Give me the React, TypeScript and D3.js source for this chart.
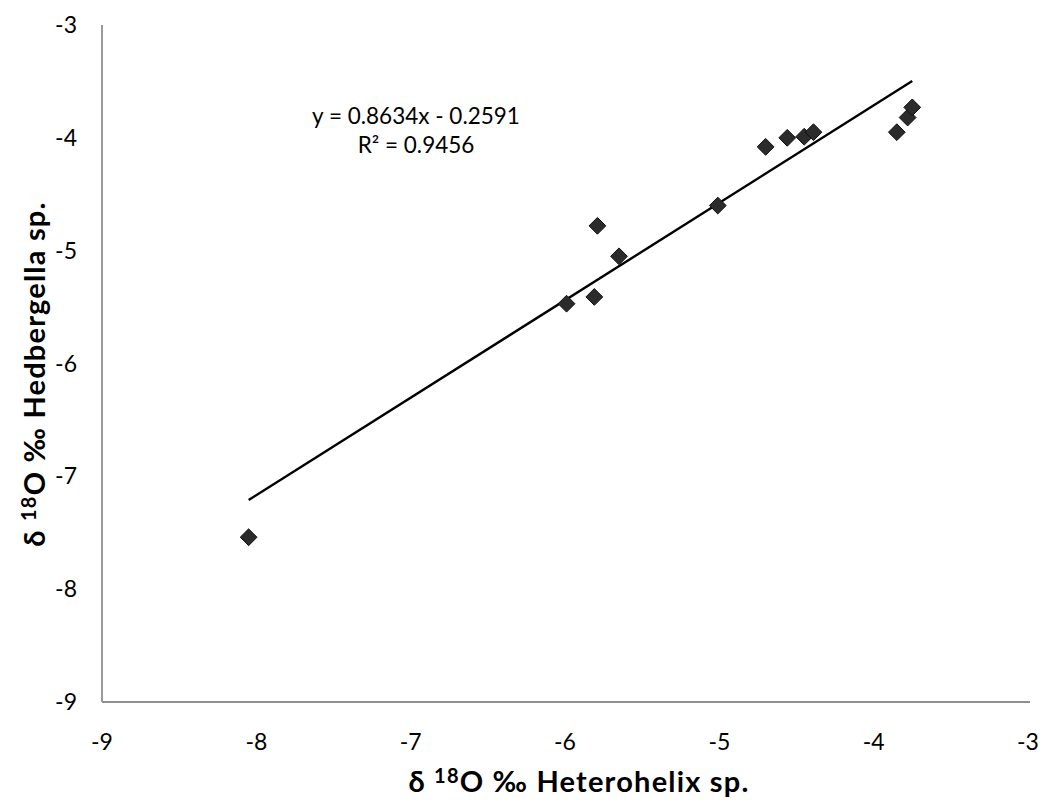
import { useEffect } from 'react';
import * as d3 from 'd3';

// Heterohelix vs Hedbergella d18O
const heterohelix = [-8.05, -5.99, -5.81, -5.79, -5.65, -5.01, -4.7, -4.56, -4.45, -4.39, -3.85, -3.78, -3.75];
const hedbergella = [-7.54, -5.47, -5.41, -4.78, -5.05, -4.6, -4.08, -4.0, -3.99, -3.95, -3.95, -3.82, -3.73];
const xTicks = [-9, -8, -7, -6, -5, -4, -3];
const yTicks = [-9, -8, -7, -6, -5, -4, -3];
const slope = 0.8634;
const intercept = -0.2591;
const rSquared = 0.9456;

const width = 1044;
const height = 805;
const margin = { top: 25, right: 16, bottom: 103, left: 102 };
const font = 'Lato, "Open Sans", sans-serif';

export default function App() {
  useEffect(() => {
    document.body.style.margin = '0';
  }, []);

  const x = d3.scaleLinear().domain([-9, -3]).range([margin.left, 1028]);
  const y = d3.scaleLinear().domain([-9, -3]).range([height - margin.bottom, margin.top]);

  const points = heterohelix.map((v, i) => ({ x: v, y: hedbergella[i] }));
  const xMin = d3.min(heterohelix) as number;
  const xMax = d3.max(heterohelix) as number;
  const fit = d3.line<number>()
    .x((d) => x(d))
    .y((d) => y(slope * d + intercept));

  const diamond = d3.symbol().type(d3.symbolDiamond2).size(180)();

  return (
    <svg width={width} height={height} style={{ display: 'block', background: '#fff' }}>
      {/* axis lines */}
      <line x1={x(-9)} x2={x(-9)} y1={y(-3)} y2={y(-9)} stroke="#909090" strokeWidth={1.8} />
      <line x1={x(-9)} x2={1030} y1={y(-9)} y2={y(-9)} stroke="#909090" strokeWidth={1.8} />

      {yTicks.map((t) => (
        <text key={`y${t}`} x={x(-9) - 25} y={y(t)} dy="0.35em" textAnchor="end"
          fontFamily={font} fontSize={23} fill="#000">{t}</text>
      ))}
      {xTicks.map((t) => (
        <text key={`x${t}`} x={x(t)} y={y(-9) + 48} textAnchor="middle"
          fontFamily={font} fontSize={23} fill="#000">{t}</text>
      ))}

      <path d={fit([xMin, xMax]) || ''} fill="none" stroke="#000" strokeWidth={2.4} />

      {points.map((p, i) => (
        <path key={i} d={diamond || ''} transform={`translate(${x(p.x)},${y(p.y)})`}
          fill="#2b2b2b" stroke="#111" strokeWidth={1} />
      ))}

      <text x={416} y={124} textAnchor="middle" fontFamily={font} fontSize={22.5} fill="#000">
        {`y = ${slope}x - ${Math.abs(intercept)}`}
      </text>
      <text x={416} y={153} textAnchor="middle" fontFamily={font} fontSize={22.5} fill="#000">
        R² = {rSquared}
      </text>

      <text x={579} y={792} textAnchor="middle" fontFamily={font} fontSize={29} fontWeight="bold"
        letterSpacing={1.2} fill="#000">
        δ <tspan fontSize={20} dy={-9}>18</tspan><tspan dy={9}>O ‰ Heterohelix sp.</tspan>
      </text>
      <text transform="translate(45,374) rotate(-90)" textAnchor="middle" fontFamily={font}
        fontSize={29} fontWeight="bold" letterSpacing={1.2} fill="#000">
        δ <tspan fontSize={20} dy={-9}>18</tspan><tspan dy={9}>O ‰ Hedbergella sp.</tspan>
      </text>
    </svg>
  );
}
